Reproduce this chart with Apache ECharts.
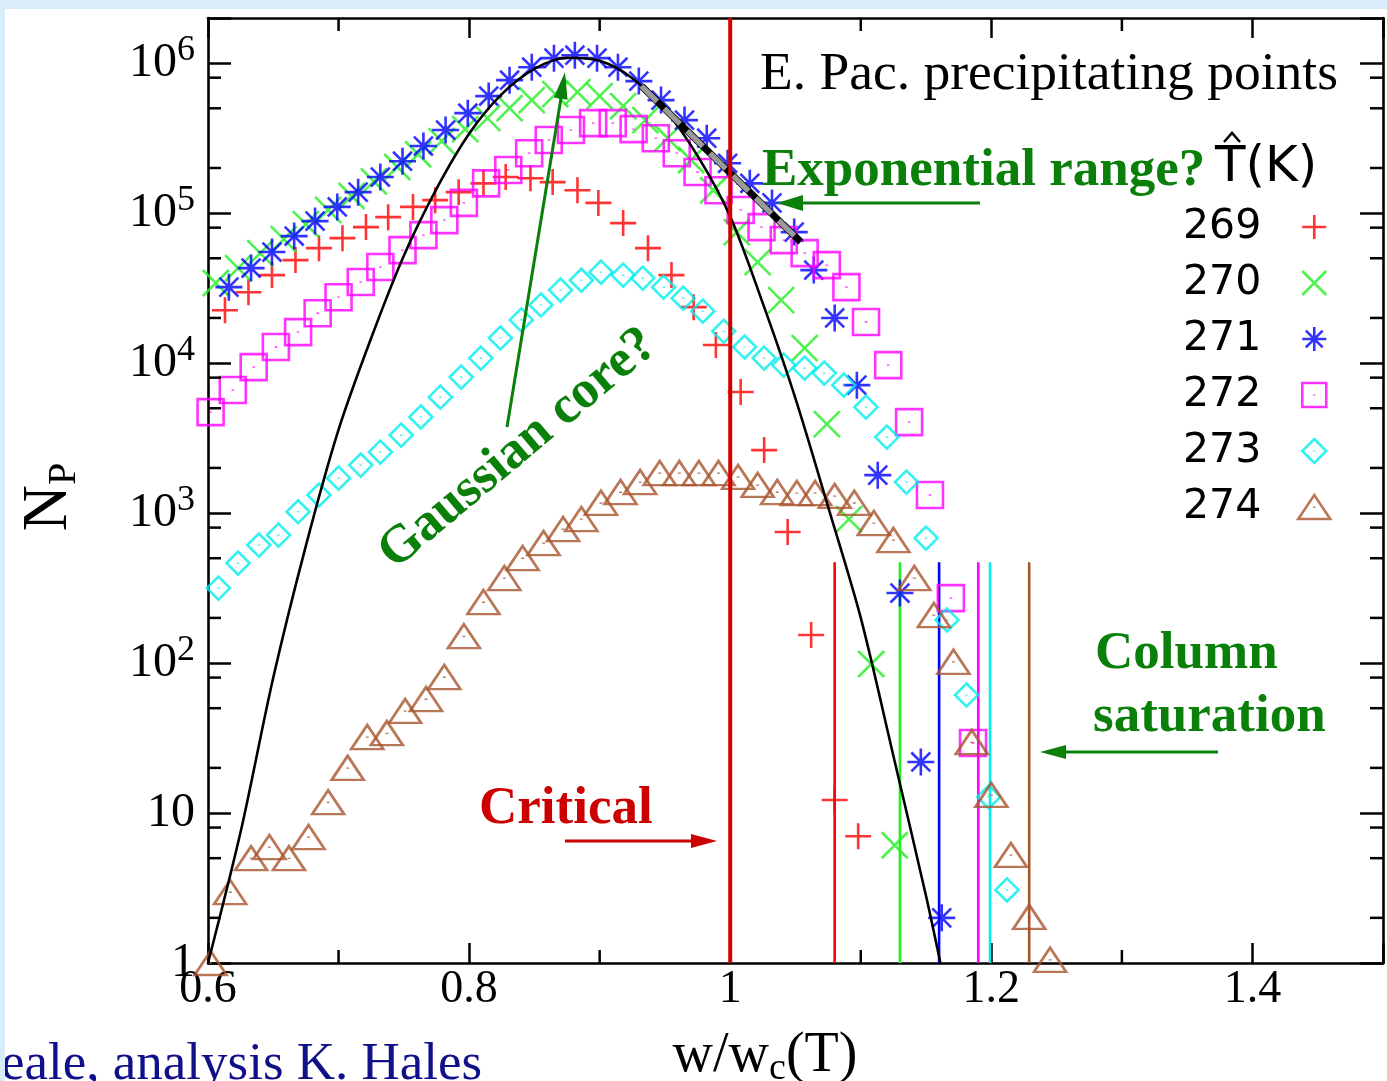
<!DOCTYPE html>
<html>
<head>
<meta charset="utf-8">
<script src="https://cdn.jsdelivr.net/npm/echarts@6/dist/echarts.min.js"></script>
<style>
html, body { margin:0; padding:0; background:#fff; }
#chart { width:1387px; height:1081px; }
</style>
</head>
<body>
<div id="chart"></div>
<script>
// axis ranges
var wMin = 0.6, wMax = 1.5;
var npMin = 1, npMax = 2e6;

// precipitating point counts per w/wc bin, one pair of arrays per temperature
var w269 = [0.613,0.631,0.649,0.667,0.685,0.703,0.721,0.738,0.757,0.774,0.792,0.811,0.828,0.847,0.864,0.883,0.899,0.918,0.937,0.955,0.972,0.989,1.008,1.026,1.044,1.062,1.080,1.098];
var np269 = [22500,29700,38600,48600,58400,68100,80700,94000,110000,122000,138000,158000,174000,171000,161000,142000,117000,85800,58400,38600,23600,13200,6410,2630,747,154,12.2,7.0];

var w270 = [0.606,0.623,0.640,0.658,0.675,0.692,0.710,0.727,0.745,0.761,0.779,0.797,0.814,0.831,0.848,0.866,0.883,0.900,0.918,0.935,0.952,0.970,0.987,1.005,1.021,1.039,1.057,1.074,1.091,1.108,1.126];
var np270 = [34200,43000,54100,67100,84500,105000,130000,163000,203000,247000,302000,363000,430000,501000,567000,621000,641000,603000,517000,417000,316000,226000,142000,74700,47100,26300,12600,3920,912,98.5,6.1];

var w271 = [0.616,0.633,0.649,0.666,0.682,0.699,0.715,0.732,0.749,0.765,0.782,0.799,0.815,0.831,0.848,0.865,0.881,0.898,0.914,0.930,0.947,0.965,0.982,0.998,1.015,1.032,1.049,1.064,1.080,1.097,1.113,1.130,1.146,1.162];
var np271 = [32100,43000,55000,70300,88500,110000,138000,174000,222000,280000,358000,464000,603000,770000,940000,1080000,1130000,1080000,940000,759000,567000,417000,316000,215000,158000,117000,74700,41700,20000,7130,1790,293,21.9,2.0];

var w272 = [0.602,0.619,0.635,0.652,0.669,0.684,0.700,0.717,0.732,0.749,0.765,0.781,0.796,0.813,0.830,0.846,0.861,0.878,0.895,0.910,0.926,0.943,0.959,0.975,0.991,1.008,1.024,1.041,1.057,1.074,1.089,1.104,1.121,1.137,1.153,1.169,1.186];
var np272 = [4710,6610,9400,12800,16100,21500,27500,34700,43700,56700,71300,89800,117000,158000,194000,251000,307000,358000,398000,398000,363000,316000,251000,188000,142000,105000,80700,66100,54100,45000,32100,18800,9700,4040,1320,271,29.3];

var w273 = [0.608,0.623,0.639,0.654,0.669,0.685,0.700,0.717,0.732,0.748,0.763,0.778,0.794,0.809,0.824,0.840,0.855,0.870,0.886,0.901,0.918,0.933,0.949,0.964,0.979,0.995,1.011,1.026,1.041,1.057,1.072,1.087,1.104,1.120,1.135,1.150,1.166,1.181,1.198,1.212];
var np273 = [316,464,612,713,1020,1320,1710,2090,2550,3310,4370,5930,8070,10800,14700,19400,24400,30700,35700,40400,38600,36900,32100,27100,22200,16300,12800,10800,9700,9260,8580,7130,5090,3210,1610,681,194,61.2,12.8,3.07];

var w274 = [0.602,0.617,0.633,0.647,0.662,0.677,0.692,0.707,0.722,0.737,0.751,0.767,0.781,0.796,0.811,0.827,0.841,0.857,0.872,0.886,0.901,0.916,0.931,0.946,0.961,0.976,0.991,1.006,1.021,1.036,1.051,1.065,1.080,1.095,1.110,1.125,1.141,1.156,1.171,1.185,1.200,1.215,1.229,1.245];
var np274 = [1.0,2.97,5.0,5.93,5.0,6.92,11.8,20.0,32.1,34.1,47.9,57.5,80.6,151,255,369,501,631,782,912,1170,1380,1610,1850,1850,1850,1850,1740,1540,1380,1360,1360,1300,1170,858,661,369,209,102,29.7,13.2,5.25,2.03,1.05];

// gaussian core guide curve
var gaussW = [0.600,0.625,0.650,0.675,0.700,0.725,0.750,0.775,0.800,0.825,0.850,0.875,0.900,0.925,0.950,0.975,1.000,1.025,1.050,1.075,1.100,1.125,1.150,1.161];
var gaussNp = [1,7.5,80,607,3600,14700,52000,145000,338000,621000,916000,1087000,1036000,794000,489000,241000,95000,25000,5800,1100,200,24,2.8,1.0];

// exponential range fit segment
var fitW = [0.932, 1.054];
var fitNp = [703000, 64100];

// critical point and column saturation limits
var criticalW = 1.0;
var saturationW = [1.080, 1.130, 1.160, 1.190, 1.199, 1.229];
var saturationTop = 470;

var temps = ['269','270','271','272','273','274'];
var colors = ['#ff0000','#22ee22','#0000ff','#ff00ff','#00eeee','#a8552d'];

var yMinorTicks = [2,5,8,20,50,80,200,500,800,2000,5000,8000,20000,50000,80000,200000,500000,800000];
var xMinorTicks = [0.7,0.9,1.1,1.3];

var symPlus = 'path://M0,5L10,5M5,0L5,10';
var symCross = 'path://M0,0L10,10M10,0L0,10';
var symStar = 'path://M0,5L10,5M5,0L5,10M1.5,1.5L8.5,8.5M8.5,1.5L1.5,8.5';
var symSquare = 'path://M0,0L10,0L10,10L0,10ZM5,4.75L5,5.25';
var symDiamond = 'path://M5,0L10,5L5,10L0,5ZM5,4.75L5,5.25';
var symTriangle = 'path://M0,7.5L5,0L10,7.5ZM5,3.6L5,4.0';
var symbols = [symPlus, symCross, symStar, symSquare, symDiamond, symTriangle];
var sizes = [26, 26, 27, [26,26], [23,23], [32,24]];

function pairs(ws, ns) {
    return ws.map(function(w, i) { return [w, ns[i]]; });
}

var serif = '"Liberation Serif", "Times New Roman", serif';
var sans = '"DejaVu Sans", sans-serif';

var chart = echarts.init(document.getElementById('chart'));

var dataSets = [pairs(w269,np269), pairs(w270,np270), pairs(w271,np271), pairs(w272,np272), pairs(w273,np273), pairs(w274,np274)];

var series = [];
for (var i = 0; i < temps.length; i++) {
    series.push({
        type:'scatter', name: temps[i], data: dataSets[i],
        symbol: symbols[i], symbolSize: sizes[i],
        itemStyle: {color:'transparent', borderColor: colors[i], borderWidth: 2.6},
        z: 3
    });
}

series.push({
    type:'line', data: pairs(gaussW, gaussNp), smooth: 0.3, showSymbol:false,
    lineStyle:{color:'#000', width:2.6}, z: 4
});
series.push({
    type:'line', data: pairs(fitW, fitNp), showSymbol:false,
    lineStyle:{color:'#000', width:7}, z: 5
});
series.push({
    type:'line', data: pairs(fitW, fitNp), showSymbol:false,
    lineStyle:{color:'#9a9a9a', width:5.5, type:[22,10], cap:'butt'}, z: 6
});
series.push({
    type:'line', data: [[criticalW, npMin],[criticalW, npMax]], showSymbol:false,
    lineStyle:{color:'#d40000', width:4}, z: 7
});
for (var k = 0; k < saturationW.length; k++) {
    series.push({
        type:'line', data: [[saturationW[k], npMin],[saturationW[k], saturationTop]], showSymbol:false,
        lineStyle:{color: colors[k], width:2.6}, z: 2
    });
}
// minor ticks at 2,5,8 per decade, and at odd tenths on x
series.push({
    type:'custom', data: yMinorTicks.map(function(v){ return [wMin, v]; }), z: 8,
    renderItem: function(params, api) {
        var v = api.value(1);
        var a = api.coord([wMin, v]);
        var b = api.coord([wMax, v]);
        return {type:'group', children:[
            {type:'line', shape:{x1:a[0], y1:a[1], x2:a[0]+13, y2:a[1]}, style:{stroke:'#000', lineWidth:2.5}},
            {type:'line', shape:{x1:b[0], y1:b[1], x2:b[0]-13, y2:b[1]}, style:{stroke:'#000', lineWidth:2.5}}
        ]};
    }
});
series.push({
    type:'custom', data: xMinorTicks.map(function(v){ return [v, npMin]; }), z: 8,
    renderItem: function(params, api) {
        var v = api.value(0);
        var a = api.coord([v, npMin]);
        var b = api.coord([v, npMax]);
        return {type:'group', children:[
            {type:'line', shape:{x1:a[0], y1:a[1], x2:a[0], y2:a[1]-13}, style:{stroke:'#000', lineWidth:2.5}},
            {type:'line', shape:{x1:b[0], y1:b[1], x2:b[0], y2:b[1]+13}, style:{stroke:'#000', lineWidth:2.5}}
        ]};
    }
});

function fmtW(v) {
    if (Math.abs(v - wMax) < 1e-6) return '';
    return String(+v.toFixed(1));
}
function fmtNp(v) {
    var e = Math.log(v) / Math.LN10;
    var k = Math.round(e);
    if (Math.abs(e - k) > 1e-6) return '';
    if (k === 0) return '{b|1}';
    if (k === 1) return '{b|10}';
    return '{b|10}{s|' + k + '}';
}

var axisLineStyle = {color:'#000', width:2.6};
var xAxisBase = {
    type:'value', min: wMin, max: wMax, interval: 0.2,
    axisLine:{lineStyle: axisLineStyle},
    axisTick:{inside:true, length:20, lineStyle:{color:'#000', width:2.5}},
    splitLine:{show:false}
};
var yAxisBase = {
    type:'log', logBase:10, min: npMin, max: npMax,
    axisLine:{lineStyle: axisLineStyle},
    axisTick:{inside:true, length:23, lineStyle:{color:'#000', width:2.5}},
    splitLine:{show:false}, minorTick:{show:false}
};

function arrowHead(tip, dir, len, half, color) {
    var bx = tip[0] - dir[0]*len, by = tip[1] - dir[1]*len;
    return {type:'polygon', z:20, shape:{points:[[tip[0],tip[1]],[bx - dir[1]*half, by + dir[0]*half],[bx + dir[1]*half, by - dir[0]*half]]}, style:{fill:color}};
}

var green = '#0a7f0a';
var graphics = [
    {type:'rect', z:30, shape:{x:0, y:0, width:1387, height:9}, style:{fill:'#d8ecfa'}},
    {type:'rect', z:30, shape:{x:0, y:0, width:5, height:1081}, style:{fill:'#d8ecfa'}},
    {type:'text', z:20, x:760, y:75, style:{text:'E. Pac. precipitating points', font:'53.5px ' + serif, fill:'#000', textAlign:'left', textVerticalAlign:'middle'}},
    {type:'text', z:20, x:762, y:171, style:{text:'Exponential range?', font:'bold 53px ' + serif, fill:green, textAlign:'left', textVerticalAlign:'middle'}},
    {type:'line', z:20, shape:{x1:980, y1:203, x2:795, y2:203}, style:{stroke:green, lineWidth:3}},
    arrowHead([777,203], [-1,0], 26, 8, green),
    {type:'text', z:20, x:518, y:449, rotation: 40*Math.PI/180, style:{text:'Gaussian core?', font:'bold 53px ' + serif, fill:green, textAlign:'center', textVerticalAlign:'middle'}},
    {type:'line', z:20, shape:{x1:507, y1:427, x2:562, y2:92}, style:{stroke:green, lineWidth:3}},
    arrowHead([565,72], [0.161,-0.987], 27, 7, green),
    {type:'text', z:20, x:479, y:809, style:{text:'Critical', font:'bold 53px ' + serif, fill:'#cc0000', textAlign:'left', textVerticalAlign:'middle'}},
    {type:'line', z:20, shape:{x1:565, y1:841, x2:700, y2:841}, style:{stroke:'#cc0000', lineWidth:3}},
    arrowHead([717,841], [1,0], 26, 7, '#cc0000'),
    {type:'text', z:20, x:1095, y:654, style:{text:'Column', font:'bold 53px ' + serif, fill:green, textAlign:'left', textVerticalAlign:'middle'}},
    {type:'text', z:20, x:1093, y:717, style:{text:'saturation', font:'bold 53px ' + serif, fill:green, textAlign:'left', textVerticalAlign:'middle'}},
    {type:'line', z:20, shape:{x1:1218, y1:752, x2:1060, y2:752}, style:{stroke:green, lineWidth:3}},
    arrowHead([1040,752], [-1,0], 26, 7, green),
    {type:'text', z:20, x:1215, y:168, style:{text:'T(K)', font:'50px ' + sans, fill:'#000', textAlign:'left', textVerticalAlign:'middle'}},
    {type:'polyline', z:20, shape:{points:[[1224,142],[1232,133],[1240,142]]}, style:{stroke:'#000', lineWidth:2.5, fill:null}},
    {type:'text', z:20, x:49, y:497, rotation: Math.PI/2, style:{
        text:'{n|N}{p|P}', textAlign:'center', textVerticalAlign:'middle', fill:'#000',
        rich:{n:{fontFamily:serif, fontSize:64, lineHeight:70, fill:'#000'}, p:{fontFamily:serif, fontSize:40, verticalAlign:'bottom', fill:'#000'}}
    }},
    {type:'text', z:20, x:765, y:1056, style:{
        text:'{t|w/w}{c|c}{t|(T)}', textAlign:'center', textVerticalAlign:'middle', fill:'#000',
        rich:{t:{fontFamily:serif, fontSize:56, lineHeight:64, fill:'#000'}, c:{fontFamily:serif, fontSize:38, verticalAlign:'bottom', fill:'#000'}}
    }},
    {type:'text', z:20, x:1, y:1065, style:{text:'eale, analysis K. Hales', font:'53px ' + serif, fill:'#10108a', textAlign:'left', textVerticalAlign:'middle'}}
];

var legendData = temps.map(function(t, i) {
    return {name: t, icon: symbols[i], itemStyle:{color:'transparent', borderColor: colors[i], borderWidth: 2.6}};
});

chart.setOption({
    animation: false,
    backgroundColor: '#ffffff',
    grid: {left: 208, right: 4, top: 18, bottom: 118},
    legend: {
        orient:'vertical', left: 1183, top: 204, align:'right', padding: 0,
        itemWidth: 96, itemHeight: 24, itemGap: 10, selectedMode: false,
        textStyle: {fontFamily: sans, fontSize: 41, lineHeight: 46, color:'#000'},
        data: legendData
    },
    xAxis: [
        echarts.util.merge({position:'bottom', axisLabel:{fontFamily: serif, fontSize:46, color:'#000', margin:4, formatter: fmtW}}, xAxisBase, true),
        echarts.util.merge({position:'top', axisLabel:{show:false}}, xAxisBase, true)
    ],
    yAxis: [
        echarts.util.merge({position:'left', axisLabel:{color:'#000', margin:13, formatter: fmtNp,
            rich:{b:{fontFamily: serif, fontSize:48, lineHeight:62, color:'#000'}, s:{fontFamily: serif, fontSize:36, verticalAlign:'top', color:'#000'}}}}, yAxisBase, true),
        echarts.util.merge({position:'right', axisLabel:{show:false}}, yAxisBase, true)
    ],
    graphic: graphics,
    series: series
});
</script>
</body>
</html>
